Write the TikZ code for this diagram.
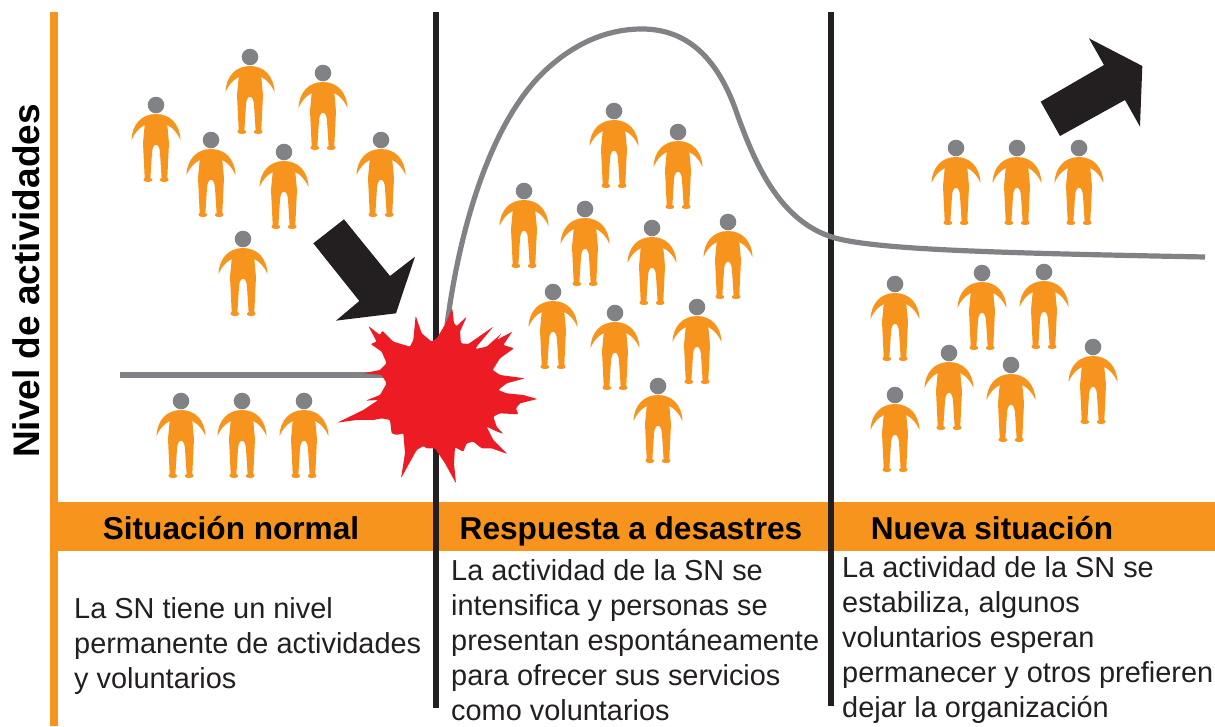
\documentclass[tikz,border=0pt]{standalone}
\usepackage{fontspec}
\setmainfont{Liberation Sans}
\definecolor{orng}{HTML}{F7941D}
\definecolor{gry}{HTML}{808285}
\definecolor{blk}{HTML}{231F20}
\definecolor{rd}{HTML}{ED1C24}
\tikzset{
  person/.pic={
    \fill[gry] (0,0) circle (8.3);
    \fill[orng] (0,9) .. controls (14,9) and (24,19) .. (24.5,35)
      .. controls (21.5,28) and (17,23) .. (11.3,20)
      -- (13,38) -- (11.3,73) .. controls (13.5,74) and (13,77) .. (8,77)
      .. controls (3,77) and (3,74) .. (5.6,73)
      -- (4,48) .. controls (3.5,37) and (-3.5,37) .. (-4,48)
      -- (-5.6,73) .. controls (-3,74) and (-3,77) .. (-8,77)
      .. controls (-13,77) and (-13.5,74) .. (-11.3,73)
      -- (-13,38) -- (-11.3,20)
      .. controls (-17,23) and (-21.5,28) .. (-24.5,35)
      .. controls (-24,19) and (-14,9) .. (0,9) -- cycle;
  },
  graycurve/.style={gry,line width=5.2},
  divider/.style={blk,line width=5.2},
  barlabel/.style={font=\fontsize{31.6}{34}\selectfont\bfseries,text=black,anchor=base,inner sep=0},
  desc/.style={font=\fontsize{28.9}{35}\selectfont,text=blk,anchor=north west,align=left,inner sep=0},
  bigarrow/.style={fill=blk}
}
\begin{document}
\begin{tikzpicture}[x=1pt,y=-1pt]
\useasboundingbox (0,0) rectangle (1215,726);
\fill[orng] (50,12) rectangle (58,726);
\fill[orng] (50,502) rectangle (1215,551);
\draw[divider] (436,12) -- (436,708);
\draw[divider] (831,12) -- (831,706);
\draw[graycurve] (120,375) -- (385,375);
\draw[graycurve] (447,325) .. controls (460,225) and (492,118) .. (548,68)
  .. controls (578,41) and (610,29) .. (642,29)
  .. controls (690,29) and (718,62) .. (735,108)
  .. controls (755,165) and (780,222) .. (835,238)
  .. controls (880,250) and (1000,253) .. (1205,257);
\foreach \x/\y in {156/105,250/57,323/73,211/140,284/152,381/140,243/239,181/401,242/401,304/401,
  614/111,678/132,524/191,585/209,652/228,728/222,553/292,615/313,697/307,658/386,
  956/148,1017/148,1079/148,895/284,982/273,1044/272,949/353,1011/365,1093/347,895/395}
  \pic at (\x,\y) {person};
\begin{scope}[shift={(300,200)},x=0.3333pt,y=-0.3333pt]
\fill[bigarrow] (132,58) -- (270,228) -- (345,170) -- (288,340) -- (108,362) -- (178,303) -- (40,130) -- cycle;
\fill[rd,rounded corners=1pt] (347,347) -- (365,400) -- (395,425) -- (412,413) -- (437,370) -- (457,325) -- (462,370) -- (470,378) -- (500,350) -- (480,395) -- (483,430) -- (505,432) -- (580,380) -- (530,440) -- (527,447) -- (560,440) -- (605,400) -- (590,420) -- (637,395) -- (610,435) -- (642,445) -- (600,475) -- (578,510) -- (600,525) -- (675,535) -- (620,550) -- (595,570) -- (620,580) -- (670,585) -- (712,597) -- (660,610) -- (648,625) -- (655,643) -- (600,640) -- (580,650) -- (590,680) -- (610,702) -- (580,690) -- (560,680) -- (580,720) -- (622,762) -- (575,745) -- (545,745) -- (520,725) -- (500,730) -- (490,755) -- (465,742) -- (462,790) -- (468,850) -- (435,790) -- (405,745) -- (380,745) -- (370,738) -- (350,750) -- (303,835) -- (315,760) -- (310,700) -- (290,705) -- (275,700) -- (270,660) -- (245,655) -- (220,660) -- (170,660) -- (112,668) -- (190,630) -- (235,600) -- (197,602) -- (240,585) -- (260,550) -- (245,525) -- (190,520) -- (240,510) -- (260,490) -- (245,455) -- (212,432) -- (230,425) -- (205,378) -- (240,405) -- (247,392) -- (280,425) -- (330,440) -- (340,420) -- cycle;
\end{scope}
\begin{scope}[shift={(1020,20)},x=0.3333pt,y=-0.3333pt]
\fill[bigarrow] (62,245) -- (252,135) -- (207,55) -- (367,138) -- (360,320) -- (315,240) -- (120,348) -- cycle;
\end{scope}
\node[rotate=90,anchor=base,inner sep=0,font=\fontsize{37}{39}\selectfont\bfseries,text=black] (ylab) at (39,281) {Nivel de actividades};
\node[barlabel] (b1) at (231,539) {Situación normal};
\node[barlabel] (b2) at (631,539) {Respuesta a desastres};
\node[barlabel] (b3) at (992,539) {Nueva situación};
\node[desc] (d1) at (74,597) {La SN tiene un nivel\\permanente de actividades\\y voluntarios};
\node[desc] (d2) at (451,559) {La actividad de la SN se\\intensifica y personas se\\presentan espontáneamente\\para ofrecer sus servicios\\como voluntarios};
\node[desc] (d3) at (842,556) {La actividad de la SN se\\estabiliza, algunos\\voluntarios esperan\\permanecer y otros prefieren\\dejar la organización};
\end{tikzpicture}
\end{document}
